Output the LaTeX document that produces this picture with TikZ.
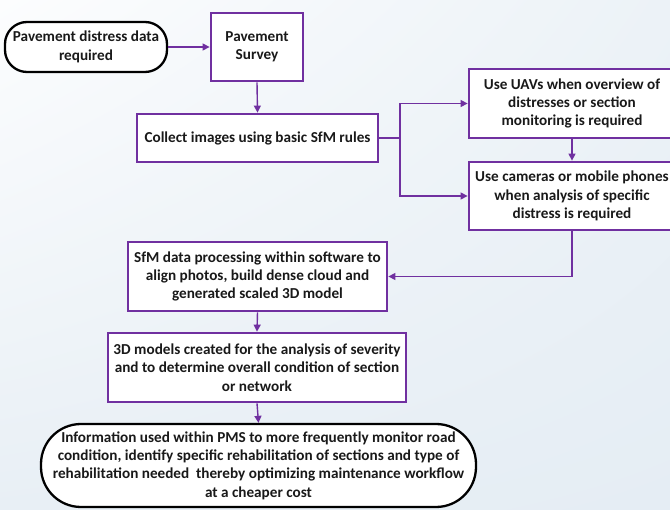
\documentclass[tikz,border=0pt]{standalone}
\usepackage{fontspec}
\setmainfont{Carlito}
\usetikzlibrary{arrows.meta,shadings}
\definecolor{pbord}{RGB}{112,48,160}
\definecolor{bgA}{RGB}{252,253,254}
\definecolor{bgB}{RGB}{236,242,247}
\definecolor{bgC}{RGB}{229,237,244}
\definecolor{bgD}{RGB}{232,239,245}
\definecolor{txt}{RGB}{25,25,25}
\tikzset{
  pbox/.style={draw=pbord, line width=2.8pt, fill=white, align=center, inner sep=0pt,
    text=txt, font=\fontsize{15.2}{18.4}\selectfont\bfseries},
  term/.style={draw=black, line width=2.3pt, fill=white, align=center, inner sep=0pt,
    text=txt, font=\fontsize{15.2}{18.4}\selectfont\bfseries},
  conn/.style={draw=pbord, line width=1.4pt, -{Triangle[length=7pt,width=7pt]}},
  plain/.style={draw=pbord, line width=1.4pt}
}
\begin{document}
\begin{tikzpicture}[x=1pt,y=-1pt]
\useasboundingbox (0,0) rectangle (670,510);
\clip (0,0) rectangle (670,510);
\shade[upper left=bgA, upper right=bgB, lower left=bgD, lower right=bgC] (0,0) rectangle (670,510);

\node[term, rounded corners=22pt, minimum width=162pt, minimum height=50pt] (start) at (86,47)
  {Pavement distress data\\required};
\node[pbox, minimum width=92pt, minimum height=68pt] (survey) at (257,47)
  {Pavement\\Survey};
\node[pbox, minimum width=241pt, minimum height=48pt] (collect) at (257.5,138)
  {Collect images using basic SfM rules};
\node[pbox, minimum width=206pt, minimum height=69pt] (uav) at (572,103.5)
  {Use UAVs when overview of\\distresses or section\\monitoring is required};
\node[pbox, minimum width=206pt, minimum height=68pt] (cam) at (572,196)
  {Use cameras or mobile phones\\when analysis of specific\\distress is required};
\node[pbox, minimum width=259pt, minimum height=69pt] (sfm) at (257.5,276.5)
  {SfM data processing within software to\\align photos, build dense cloud and\\generated scaled 3D model};
\node[pbox, minimum width=298pt, minimum height=69pt] (model) at (257,367.5)
  {3D models created for the analysis of severity\\and to determine overall condition of section\\or network};
\node[term, rounded corners=40pt, minimum width=435pt, minimum height=83pt] (final) at (258.5,465.5)
  {Information used within PMS to more frequently monitor road\\condition, identify specific rehabilitation of sections and type of\\rehabilitation needed~ thereby optimizing maintenance workflow\\at a cheaper cost};

\coordinate (br) at (400,138);
\draw[conn] (start.east) -- (survey.west);
\draw[conn] (survey.south) -- (collect.north);
\draw[plain] (collect.east) -- (br);
\draw[conn] (br) |- (uav.west);
\draw[conn] (br) |- (cam.west);
\draw[conn] (uav.south) -- (cam.north);
\draw[conn] (cam.south) |- (sfm.east);
\draw[conn] (sfm.south) -- (model.north);
\draw[conn] (model.south) -- (final.north);
\end{tikzpicture}
\end{document}
